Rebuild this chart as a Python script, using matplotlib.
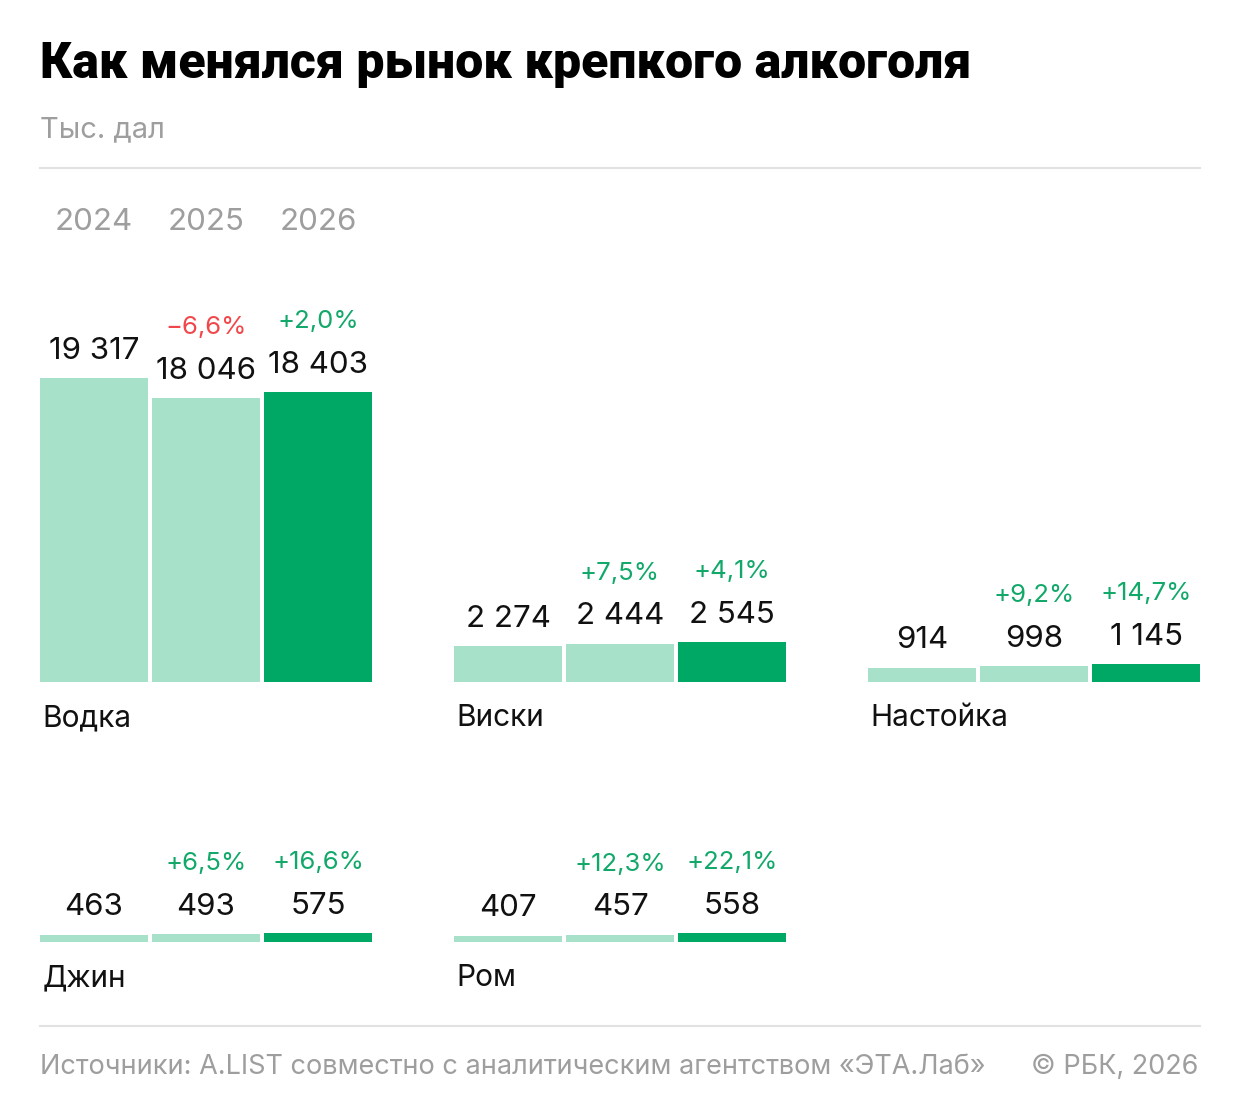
import matplotlib
matplotlib.use("Agg")
from matplotlib import pyplot as plt
from matplotlib.lines import Line2D
import matplotlib.transforms as mtransforms

plt.rcParams['font.family'] = ['Inter', 'DejaVu Sans']

# data, thousands of decalitres
years = ["2024", "2025", "2026"]
categories = ["Водка", "Виски", "Настойка", "Джин", "Ром"]
vodka = [19317, 18046, 18403]
whisky = [2274, 2444, 2545]
nastoyka = [914, 998, 1145]
gin = [463, 493, 575]
rum = [407, 457, 558]
series = [vodka, whisky, nastoyka, gin, rum]

W, H = 1240, 1114
light = "#a8e1c9"
dark = "#00a865"
green_txt = "#12a86a"
red_txt = "#f2474a"
gray = "#9e9e9e"

fig = plt.figure(figsize=(W / 100, H / 100), dpi=100)

def fx(px):
    return px / W

def fy(px):
    return 1 - px / H

# title block
fig.text(fx(40), fy(78), "Как менялся рынок крепкого алкоголя", fontsize=36,
         fontweight="black", color="#000000", va="baseline", family=["Roboto", "DejaVu Sans"])
fig.text(fx(40), fy(137), "Тыс. дал", fontsize=21, color=gray, va="baseline")
fig.add_artist(Line2D([fx(40), fx(1200)], [fy(168), fy(168)], transform=fig.transFigure,
                      color="#e2e2e2", lw=1.5))
fig.add_artist(Line2D([fx(40), fx(1200)], [fy(1026), fy(1026)], transform=fig.transFigure,
                      color="#e2e2e2", lw=1.5))

# footer
fig.text(fx(40), fy(1074), "Источники: A.LIST совместно с аналитическим агентством «ЭТА.Лаб»",
         fontsize=19.5, color=gray, va="baseline")
fig.text(fx(1198), fy(1074), "© РБК, 2026", fontsize=19.5, color=gray, va="baseline", ha="right")

# panels
lefts = [40, 454, 868, 40, 454]
baselines = [682, 682, 682, 942, 942]
panel_w = 332
panel_h = 304
bw = 108 / 112
ymax = max(max(s) for s in series)
x = [0, 1, 2]

def fmt_num(v):
    return f"{v:,}".replace(",", " ")

def fmt_pct(a, b):
    p = (b - a) / a * 100
    s = f"{abs(p):.1f}".replace(".", ",")
    return ("+" if p >= 0 else "−") + s + "%"

axes = []
for name, vals, left, base in zip(categories, series, lefts, baselines):
    ax = fig.add_axes([fx(left), fy(base), panel_w / W, panel_h / H])
    ax.bar(x, vals, width=bw, color=[light, light, dark], linewidth=0)
    ax.set_xlim(-bw / 2, 2 + bw / 2)
    ax.set_ylim(0, ymax)
    ax.axis("off")
    for i, v in enumerate(vals):
        ax.annotate(fmt_num(v), (i, v), xytext=(0, 14), textcoords="offset points",
                    ha="center", va="baseline", fontsize=22.5, color="#111111",
                    annotation_clip=False)
        if i > 0:
            pct = fmt_pct(vals[i - 1], v)
            c = red_txt if v < vals[i - 1] else green_txt
            ax.annotate(pct, (i, v), xytext=(0, 46), textcoords="offset points",
                        ha="center", va="baseline", fontsize=18.5, color=c,
                        annotation_clip=False)
    ax.annotate(name, (-bw / 2, 0), xytext=(2, -32), textcoords="offset points",
                ha="left", va="baseline", fontsize=21.5, color="#111111",
                annotation_clip=False)
    axes.append(ax)

# year labels over the first panel
trans = mtransforms.blended_transform_factory(axes[0].transData, fig.transFigure)
for i, yr in enumerate(years):
    axes[0].text(i, fy(230), yr, transform=trans, ha="center", va="baseline",
                 fontsize=22.5, color=gray)

fig.savefig("out.png", dpi=100)
